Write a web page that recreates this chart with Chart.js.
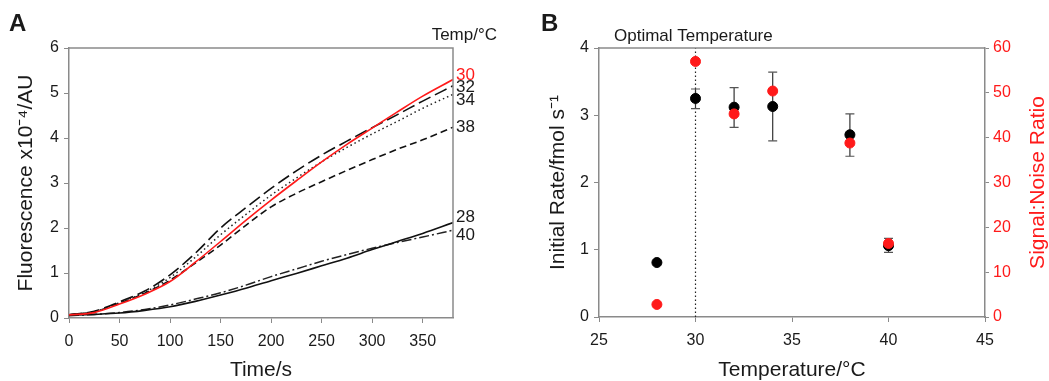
<!DOCTYPE html>
<html>
<head>
<meta charset="utf-8">
<script src="https://cdn.jsdelivr.net/npm/chart.js@4.4.1/dist/chart.umd.min.js"></script>
<style>
  html, body { margin: 0; padding: 0; background: #fff; }
  #wrap { position: relative; width: 1049px; height: 381px; overflow: hidden; }
  canvas { position: absolute; top: 0; }
</style>
</head>
<body>
<div id="wrap">
  <canvas id="chartA" width="525" height="381" style="left:0"></canvas>
  <canvas id="chartB" width="519" height="381" style="left:530px"></canvas>
</div>
<script>
// Panel A: fluorescence vs time, one trace per temperature
const timeS = [0, 25, 50, 75, 100, 125, 150, 175, 200, 225, 250, 275, 300, 325, 350, 380];
const fluor30 = [0.07, 0.12, 0.31, 0.53, 0.81, 1.24, 1.70, 2.17, 2.62, 3.05, 3.47, 3.86, 4.22, 4.58, 4.93, 5.30];
const fluor32 = [0.07, 0.15, 0.36, 0.60, 0.96, 1.44, 2.00, 2.45, 2.88, 3.27, 3.62, 3.93, 4.23, 4.52, 4.82, 5.16];
const fluor34 = [0.07, 0.14, 0.34, 0.57, 0.90, 1.35, 1.85, 2.30, 2.73, 3.11, 3.47, 3.79, 4.09, 4.37, 4.66, 4.97];
const fluor38 = [0.07, 0.14, 0.33, 0.55, 0.84, 1.22, 1.62, 2.06, 2.47, 2.77, 3.03, 3.28, 3.52, 3.75, 3.96, 4.24];
const fluor28 = [0.06, 0.08, 0.11, 0.17, 0.25, 0.37, 0.51, 0.66, 0.83, 0.99, 1.16, 1.33, 1.52, 1.70, 1.88, 2.12];
const fluor40 = [0.05, 0.08, 0.12, 0.19, 0.29, 0.42, 0.56, 0.73, 0.92, 1.09, 1.26, 1.41, 1.55, 1.68, 1.80, 1.95];
const traceLabels = ['30', '32', '34', '38', '28', '40'];

// Panel B: initial rate and signal:noise vs temperature
const temps = [28, 30, 32, 34, 38, 40];
const rate = [0.81, 3.25, 3.12, 3.13, 2.71, 1.06];
const rateLo = [null, 3.10, 2.82, 2.62, 2.39, 0.96];
const rateHi = [null, 3.39, 3.41, 3.64, 3.02, 1.17];
const snr = [2.8, 57.0, 45.3, 50.4, 38.8, 16.4];
const optimalTemp = 30;

const FONT = "'Liberation Sans', Arial, sans-serif";
const AXIS_GREY = '#8a8a8a';
const TEXT = '#1a1a1a';
const RED = '#ff1a1a';

function pts(ys) {
  return ys.map((y, i) => ({ x: timeS[i], y: y }));
}

function tickFont() { return { family: FONT, size: 16 }; }

// ---------- Panel A ----------
const traceStyles = [
  { data: fluor30, color: RED, dash: [], width: 1.6, off: -4 },
  { data: fluor32, color: '#111', dash: [13, 5], width: 1.6, off: 2 },
  { data: fluor34, color: '#222', dash: [1.5, 3], width: 1.5, off: 6 },
  { data: fluor38, color: '#111', dash: [7, 4], width: 1.6, off: 0 },
  { data: fluor28, color: '#111', dash: [], width: 1.6, off: -5 },
  { data: fluor40, color: '#222', dash: [10, 3, 2, 3], width: 1.5, off: 5 }
];

const panelAPlugin = {
  id: 'panelA',
  afterDraw(chart) {
    const { ctx, chartArea: a, scales } = chart;
    ctx.save();
    // top and right frame
    ctx.strokeStyle = AXIS_GREY;
    ctx.lineWidth = 1.5;
    ctx.beginPath();
    ctx.moveTo(a.left, a.top);
    ctx.lineTo(a.right, a.top);
    ctx.lineTo(a.right, a.bottom);
    ctx.stroke();
    // end-of-trace temperature labels
    ctx.font = '17px ' + FONT;
    ctx.textBaseline = 'middle';
    ctx.textAlign = 'left';
    traceStyles.forEach((s, i) => {
      const last = s.data.length - 1;
      const y = scales.y.getPixelForValue(s.data[last]) + s.off;
      ctx.fillStyle = i === 0 ? RED : TEXT;
      ctx.fillText(traceLabels[i], a.right + 3, y);
    });
    ctx.fillStyle = TEXT;
    ctx.font = '17px ' + FONT;
    ctx.textAlign = 'right';
    ctx.fillText('Temp/\u00B0C', 497, 35);
    ctx.font = 'bold 24px ' + FONT;
    ctx.textAlign = 'left';
    ctx.fillText('A', 9, 24);
    ctx.restore();
  }
};

new Chart(document.getElementById('chartA'), {
  type: 'line',
  data: {
    datasets: traceStyles.map((s, i) => ({
      label: traceLabels[i],
      data: pts(s.data),
      borderColor: s.color,
      borderDash: s.dash,
      borderWidth: s.width,
      pointRadius: 0,
      cubicInterpolationMode: 'monotone',
      fill: false
    }))
  },
  options: {
    responsive: false,
    animation: false,
    layout: { padding: { top: 48, right: 72, left: 0, bottom: 0 } },
    plugins: { legend: { display: false }, tooltip: { enabled: false } },
    scales: {
      x: {
        type: 'linear',
        min: 0,
        max: 380,
        afterFit(scale) { scale.height = 63; },
        ticks: { stepSize: 50, includeBounds: false, color: TEXT, font: tickFont(), padding: 9, maxRotation: 0 },
        grid: { drawOnChartArea: false, tickLength: 5, color: AXIS_GREY },
        border: { color: AXIS_GREY, width: 1.5 },
        title: { display: true, text: 'Time/s', color: TEXT, font: { family: FONT, size: 21, lineHeight: 1 }, padding: { top: 0, bottom: 0 } }
      },
      y: {
        min: 0,
        max: 6,
        afterFit(scale) { scale.width = 69; },
        ticks: { stepSize: 1, color: TEXT, font: tickFont(), padding: 5 },
        grid: { drawOnChartArea: false, tickLength: 5, color: AXIS_GREY },
        border: { color: AXIS_GREY, width: 1.5 },
        title: { display: true, text: 'Fluorescence x10\u207B\u2074/AU', color: TEXT, font: { family: FONT, size: 21, lineHeight: 1 }, padding: { top: 16, bottom: 0 } }
      }
    }
  },
  plugins: [panelAPlugin]
});

// ---------- Panel B ----------
const panelBPlugin = {
  id: 'panelB',
  beforeDatasetsDraw(chart) {
    const { ctx, chartArea: a, scales } = chart;
    ctx.save();
    // optimal temperature marker
    const xo = scales.x.getPixelForValue(optimalTemp);
    ctx.strokeStyle = '#222';
    ctx.lineWidth = 1.2;
    ctx.setLineDash([1.5, 2.5]);
    ctx.beginPath();
    ctx.moveTo(xo, a.bottom);
    ctx.lineTo(xo, a.top);
    ctx.stroke();
    ctx.setLineDash([]);
    // error bars on the rate points
    temps.forEach((t, i) => {
      if (rateLo[i] == null) return;
      const x = scales.x.getPixelForValue(t);
      const yl = scales.y.getPixelForValue(rateLo[i]);
      const yh = scales.y.getPixelForValue(rateHi[i]);
      ctx.strokeStyle = '#333';
      ctx.lineWidth = 1.2;
      ctx.beginPath();
      ctx.moveTo(x, yl);
      ctx.lineTo(x, yh);
      ctx.stroke();
      ctx.strokeStyle = '#555';
      ctx.beginPath();
      ctx.moveTo(x - 4.5, yl);
      ctx.lineTo(x + 4.5, yl);
      ctx.moveTo(x - 4.5, yh);
      ctx.lineTo(x + 4.5, yh);
      ctx.stroke();
    });
    ctx.restore();
  },
  afterDraw(chart) {
    const { ctx, chartArea: a } = chart;
    ctx.save();
    ctx.strokeStyle = AXIS_GREY;
    ctx.lineWidth = 1.5;
    ctx.beginPath();
    ctx.moveTo(a.left, a.top);
    ctx.lineTo(a.right, a.top);
    ctx.stroke();
    ctx.fillStyle = TEXT;
    ctx.font = '17px ' + FONT;
    ctx.textBaseline = 'middle';
    ctx.textAlign = 'left';
    ctx.fillText('Optimal Temperature', 84, 36);
    ctx.font = 'bold 24px ' + FONT;
    ctx.fillText('B', 11, 24);
    // right axis title, reading bottom to top
    ctx.fillStyle = RED;
    ctx.font = '21px ' + FONT;
    ctx.textAlign = 'center';
    ctx.translate(508, (a.top + a.bottom) / 2);
    ctx.rotate(-Math.PI / 2);
    ctx.fillText('Signal:Noise Ratio', 0, 0);
    ctx.restore();
  }
};

new Chart(document.getElementById('chartB'), {
  type: 'scatter',
  data: {
    datasets: [
      {
        label: 'Signal:Noise Ratio',
        data: temps.map((t, i) => ({ x: t, y: snr[i] })),
        yAxisID: 'y1',
        backgroundColor: RED,
        borderColor: RED,
        pointRadius: 5,
        order: 0
      },
      {
        label: 'Initial Rate',
        data: temps.map((t, i) => ({ x: t, y: rate[i] })),
        yAxisID: 'y',
        backgroundColor: '#000',
        borderColor: '#000',
        pointRadius: 5,
        order: 1
      }
    ]
  },
  options: {
    responsive: false,
    animation: false,
    layout: { padding: { top: 48, right: 0, left: 0, bottom: 0 } },
    plugins: { legend: { display: false }, tooltip: { enabled: false } },
    scales: {
      x: {
        type: 'linear',
        min: 25,
        max: 45,
        afterFit(scale) { scale.height = 64; },
        ticks: { stepSize: 5, color: TEXT, font: tickFont(), padding: 9, maxRotation: 0 },
        grid: { drawOnChartArea: false, tickLength: 5, color: AXIS_GREY },
        border: { color: AXIS_GREY, width: 1.5 },
        title: { display: true, text: 'Temperature/\u00B0C', color: TEXT, font: { family: FONT, size: 21, lineHeight: 1 }, padding: { top: 0, bottom: 0 } }
      },
      y: {
        position: 'left',
        min: 0,
        max: 4,
        afterFit(scale) { scale.width = 69; },
        ticks: { stepSize: 1, color: TEXT, font: tickFont(), padding: 5 },
        grid: { drawOnChartArea: false, tickLength: 5, color: AXIS_GREY },
        border: { color: AXIS_GREY, width: 1.5 },
        title: { display: true, text: 'Initial Rate/fmol s\u207B\u00B9', color: TEXT, font: { family: FONT, size: 21, lineHeight: 1 }, padding: { top: 18, bottom: 0 } }
      },
      y1: {
        position: 'right',
        min: 0,
        max: 60,
        afterFit(scale) { scale.width = 64; },
        ticks: { stepSize: 10, color: RED, font: tickFont(), padding: 4 },
        grid: { drawOnChartArea: false, tickLength: 4, color: AXIS_GREY },
        border: { color: AXIS_GREY, width: 1.5 },
        title: { display: false }
      }
    }
  },
  plugins: [panelBPlugin]
});
</script>
</body>
</html>
